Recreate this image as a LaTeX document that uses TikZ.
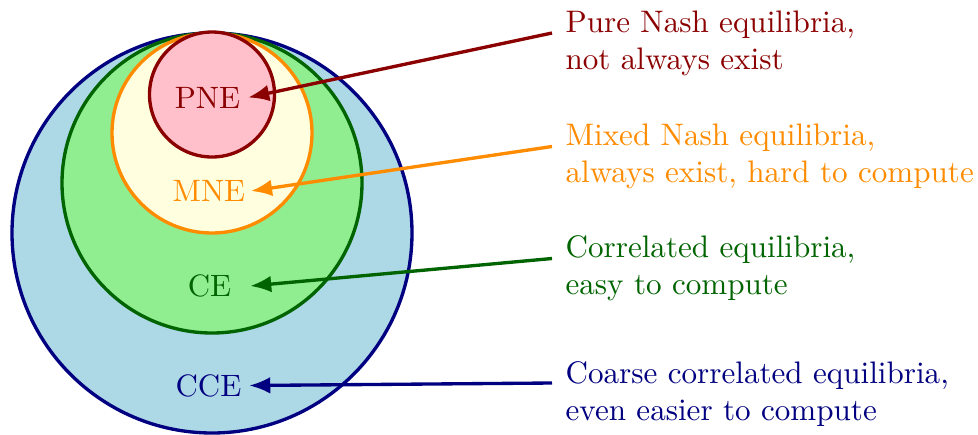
\documentclass[tikz,border=0pt]{standalone}
\usetikzlibrary{arrows.meta}
\definecolor{cPNE}{RGB}{139,0,0}
\definecolor{cMNE}{RGB}{255,140,0}
\definecolor{cCE}{RGB}{0,100,0}
\definecolor{cCCE}{RGB}{0,0,128}
\definecolor{fPNE}{RGB}{255,192,203}
\definecolor{fMNE}{RGB}{255,255,224}
\definecolor{fCE}{RGB}{144,238,144}
\definecolor{fCCE}{RGB}{173,216,230}
\tikzset{
  setcircle/.style={line width=1.9pt},
  setlabel/.style={font=\fontsize{10}{12.2}\selectfont, scale=1.76, minimum width=0.91cm, inner sep=0.057cm},
  desc/.style={font=\fontsize{10}{12.2}\selectfont, scale=1.77, inner sep=0pt, anchor=base west},
  pointer/.style={line width=1.9pt, -{Latex[length=12pt,width=9.5pt]}}
}
\begin{document}
\begin{tikzpicture}
\useasboundingbox (0,0) rectangle (19.56,-8.68);
% sets
\draw[setcircle, draw=cCCE, fill=fCCE] (4.24,-4.66) circle[radius=4cm];
\draw[setcircle, draw=cCE, fill=fCE] (4.24,-3.66) circle[radius=3cm];
\draw[setcircle, draw=cMNE, fill=fMNE] (4.24,-2.66) circle[radius=2cm];
\draw[setcircle, draw=cPNE, fill=fPNE] (4.24,-1.89) circle[radius=1.25cm];
% labels
\node[setlabel, text=cPNE] (pne) at (4.15,-1.95) {PNE};
\node[setlabel, text=cMNE] (mne) at (4.18,-3.82) {MNE};
\node[setlabel, text=cCE] (ce) at (4.19,-5.72) {CE};
\node[setlabel, text=cCCE] (cce) at (4.17,-7.71) {CCE};
% descriptions
\node[desc, text=cPNE] (tpne) at (11.30,-0.64) {\begin{tabular}[t]{@{}l@{}}Pure Nash equilibria,\\ not always exist\end{tabular}};
\node[desc, text=cMNE] (tmne) at (11.30,-2.90) {\begin{tabular}[t]{@{}l@{}}Mixed Nash equilibria,\\ always exist, hard to compute\end{tabular}};
\node[desc, text=cCE] (tce) at (11.30,-5.14) {\begin{tabular}[t]{@{}l@{}}Correlated equilibria,\\ easy to compute\end{tabular}};
\node[desc, text=cCCE] (tcce) at (11.30,-7.66) {\begin{tabular}[t]{@{}l@{}}Coarse correlated equilibria,\\ even easier to compute\end{tabular}};
% arrows
\coordinate (spne) at ([xshift=-0.26cm,yshift=-0.02cm]tpne.base west);
\coordinate (smne) at ([xshift=-0.26cm,yshift=-0.03cm]tmne.base west);
\coordinate (sce) at ([xshift=-0.26cm,yshift=-0.03cm]tce.base west);
\coordinate (scce) at ([xshift=-0.26cm]tcce.base west);
\draw[pointer, draw=cPNE] (spne) -- (pne.east);
\draw[pointer, draw=cMNE] (smne) -- (mne.east);
\draw[pointer, draw=cCE] (sce) -- (ce.east);
\draw[pointer, draw=cCCE] (scce) -- (cce.east);
\end{tikzpicture}
\end{document}
